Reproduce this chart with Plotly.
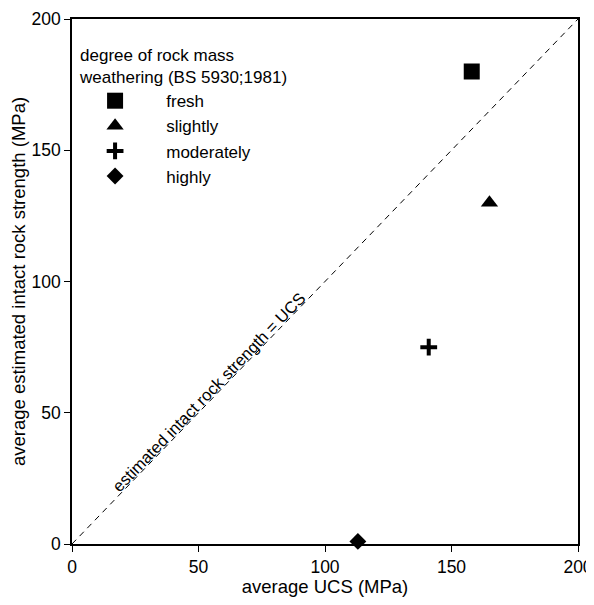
import plotly.graph_objects as go

# data
categories = ["fresh", "slightly", "moderately", "highly"]
ucs = [158, 165, 141, 113]
estimated = [180, 130, 75, 1]
symbols = ["square", "triangle-up", "cross-thin-open", "diamond"]
sizes = [16, 15, 12, 13]
line_x = [0, 200]
line_y = [0, 200]
x_ticks = [0, 50, 100, 150, 200]
y_ticks = [0, 50, 100, 150, 200]

FONT = "Liberation Sans, Arial, sans-serif"

fig = go.Figure()
fig.add_trace(go.Scatter(x=line_x, y=line_y, mode="lines",
                         line=dict(color="black", width=1, dash="6px,5px"),
                         showlegend=False, hoverinfo="skip"))
for cat, xv, yv, sym, sz in zip(categories, ucs, estimated, symbols, sizes):
    mk = dict(symbol=sym, size=sz, color="black")
    if sym.endswith("open"):
        mk["line"] = dict(color="black", width=4)
    fig.add_trace(go.Scatter(x=[xv], y=[yv], mode="markers", name="\u00a0\u00a0\u00a0" + cat,
                             marker=mk, cliponaxis=False))

fig.add_annotation(x=54, y=58, xref="x", yref="y",
                   text="estimated intact rock strength = UCS",
                   textangle=-46, showarrow=False,
                   font=dict(family=FONT, size=16.5, color="black"))

axis_common = dict(showline=True, linecolor="black", linewidth=1.5, mirror=True,
                   ticks="outside", ticklen=6, tickwidth=1.2, tickcolor="black",
                   showgrid=False, zeroline=False, automargin=False,
                   tickfont=dict(family=FONT, size=17.5, color="black"))

fig.update_xaxes(range=[0, 200], tickvals=x_ticks,
                 title=dict(text="average UCS (MPa)", standoff=0,
                            font=dict(family=FONT, size=18.5, color="black")),
                 **axis_common)
fig.update_yaxes(range=[0, 200], tickvals=y_ticks,
                 title=dict(text="average estimated intact rock strength (MPa)",
                            font=dict(family=FONT, size=18.5, color="black")),
                 **axis_common)

fig.update_layout(
    width=586, height=589,
    margin=dict(l=64, r=16, t=11, b=53),
    plot_bgcolor="white", paper_bgcolor="white",
    font=dict(family=FONT, color="black"),
    legend=dict(x=0.012, y=0.962, xanchor="left", yanchor="top",
                title=dict(text="degree of rock mass<br>weathering (BS 5930;1981)",
                           font=dict(family=FONT, size=17, color="black"), side="top"),
                font=dict(family=FONT, size=17, color="black"),
                bgcolor="rgba(0,0,0,0)", itemwidth=64, tracegroupgap=0),
)

fig.write_html("out.html")
